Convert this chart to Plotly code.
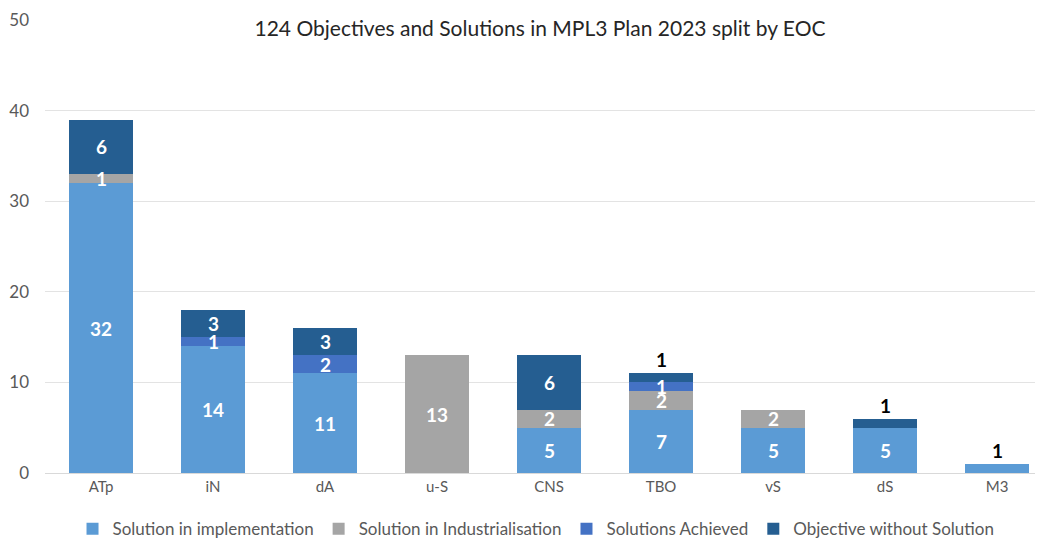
import plotly.graph_objects as go

categories = ["ATp", "iN", "dA", "u-S", "CNS", "TBO", "vS", "dS", "M3"]
implementation = [32, 14, 11, 0, 5, 7, 5, 5, 1]
industrialisation = [1, 0, 0, 13, 2, 2, 2, 0, 0]
achieved = [0, 1, 2, 0, 0, 1, 0, 0, 0]
without_solution = [6, 3, 3, 0, 6, 1, 0, 1, 0]

series = [
    ("Solution in implementation", implementation, "#5B9BD5"),
    ("Solution in Industrialisation", industrialisation, "#A5A5A5"),
    ("Solutions Achieved", achieved, "#4472C4"),
    ("Objective without Solution", without_solution, "#255E91"),
]

# segments labelled above the bar in black instead of inside
outside = {("M3", 0), ("TBO", 3), ("dS", 3)}

fig = go.Figure()
base = [0] * len(categories)
annotations = []
for k, (name, vals, color) in enumerate(series):
    fig.add_trace(go.Bar(
        x=categories, y=vals, name=name,
        marker=dict(color=color, line=dict(width=0)),
        width=0.57,
    ))
    for i, v in enumerate(vals):
        if v == 0:
            continue
        if (categories[i], k) in outside:
            annotations.append(dict(
                x=categories[i], y=base[i] + v, text=f"<b>{v}</b>",
                showarrow=False, yanchor="bottom", yshift=0,
                font=dict(size=19, color="black"),
            ))
        else:
            annotations.append(dict(
                x=categories[i], y=base[i] + v / 2, text=f"<b>{v}</b>",
                showarrow=False, yanchor="middle",
                font=dict(size=19, color="white"),
            ))
        base[i] += v

# page body has an 8px margin, so the figure is 8px smaller than the window
fig.update_layout(
    barmode="stack",
    width=1035, height=535,
    template="plotly_white",
    font=dict(family="Lato, Open Sans, sans-serif", color="#595959"),
    title=dict(
        text="124 Objectives and Solutions in MPL3 Plan 2023 split by EOC",
        x=0.514, xanchor="center", y=0.962, yanchor="middle",
        font=dict(size=21, color="#262626"),
    ),
    margin=dict(l=37, r=0, t=12, b=70, autoexpand=False),
    legend=dict(
        orientation="h", x=0.492, xanchor="center", y=-0.124, yanchor="middle",
        font=dict(size=17, color="#595959"), itemwidth=30,
        traceorder="normal",
    ),
    annotations=annotations,
    plot_bgcolor="white",
)
fig.update_xaxes(
    range=[-0.5, 8.41], showgrid=False, showline=True, linecolor="#D9D9D9",
    tickfont=dict(size=15, color="#595959"), ticks="", automargin=False,
)
fig.update_yaxes(
    range=[0, 50], dtick=10, gridcolor="#E3E3E3", zeroline=False,
    tickfont=dict(size=17, color="#595959"), ticklabelstandoff=15,
    automargin=False,
)

fig.write_html("out.html")
